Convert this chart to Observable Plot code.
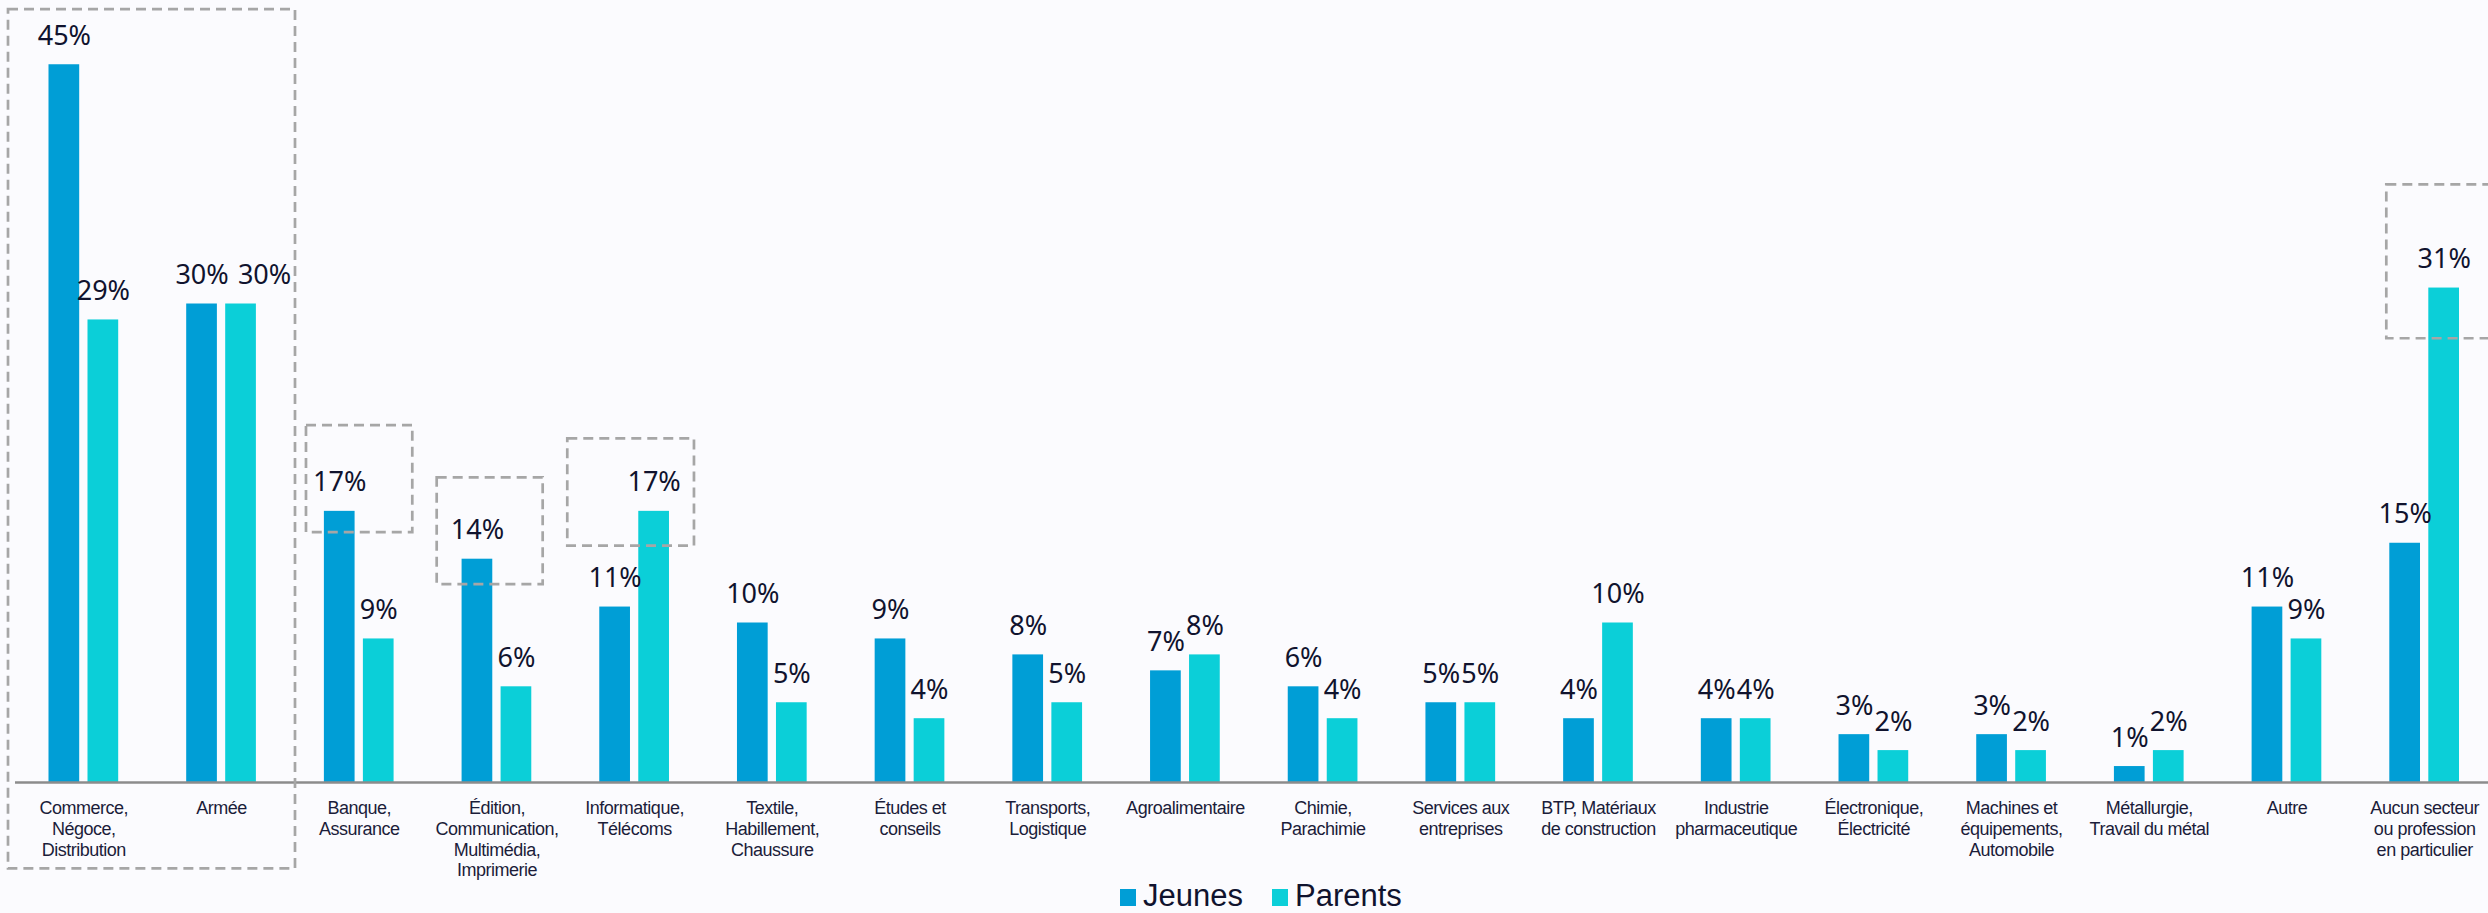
<!DOCTYPE html>
<html>
<head>
<meta charset="utf-8">
<script src="https://cdn.jsdelivr.net/npm/d3@7"></script>
<script src="https://cdn.jsdelivr.net/npm/@observablehq/plot@0.6"></script>
<style>
html, body { margin: 0; padding: 0; background: #fbfbfe; }
#chart svg { display: block; overflow: visible; }
#chart g[aria-label="x-axis tick label"] text { letter-spacing: -0.5px; }
#legend { display: flex; align-items: baseline; margin-left: 1120px; margin-top: 3px; height: 35px; line-height: 38px;
  font: 31px "Liberation Sans", Arial, sans-serif; color: #10132e; }
#legend .item { display: flex; align-items: baseline; margin-right: 29px; }
#legend .sw { display: inline-block; width: 16px; height: 17px; margin-right: 7px; }
</style>
</head>
<body>
<div id="chart"></div>
<div id="legend"></div>
<script>
// ---- data ----
const categories = [
  "Commerce, Négoce, Distribution", "Armée", "Banque, Assurance",
  "Édition, Communication, Multimédia, Imprimerie", "Informatique, Télécoms",
  "Textile, Habillement, Chaussure", "Études et conseils", "Transports, Logistique",
  "Agroalimentaire", "Chimie, Parachimie", "Services aux entreprises",
  "BTP, Matériaux de construction", "Industrie pharmaceutique", "Électronique, Électricité",
  "Machines et équipements, Automobile", "Métallurgie, Travail du métal", "Autre",
  "Aucun secteur ou profession en particulier"
];
const tickLabels = [
  "Commerce,\nNégoce,\nDistribution", "Armée", "Banque,\nAssurance",
  "Édition,\nCommunication,\nMultimédia,\nImprimerie", "Informatique,\nTélécoms",
  "Textile,\nHabillement,\nChaussure", "Études et\nconseils", "Transports,\nLogistique",
  "Agroalimentaire", "Chimie,\nParachimie", "Services aux\nentreprises",
  "BTP, Matériaux\nde construction", "Industrie\npharmaceutique", "Électronique,\nÉlectricité",
  "Machines et\néquipements,\nAutomobile", "Métallurgie,\nTravail du métal", "Autre",
  "Aucun secteur\nou profession\nen particulier"
];
const series = ["Jeunes", "Parents"];
const jeunes  = [45, 30, 17, 14, 11, 10, 9, 8, 7, 6, 5, 4, 4, 3, 3, 1, 11, 15];
const parents = [29, 30, 9, 6, 17, 5, 4, 5, 8, 4, 5, 10, 4, 2, 2, 2, 9, 31];

// highlighted (dashed) annotation boxes: category index span and value span
const boxCats   = [[0, 1], [2, 2], [3, 3], [4, 4], [17, 17]];
const boxRanges = [[-5.42, 48.46], [15.66, 22.38], [12.41, 19.10], [14.82, 21.55], [27.82, 37.47]];

// ---- build tables ----
const colors = ["#009ed6", "#0bcfd8"];
const labelOf = new Map(categories.map((c, i) => [c, tickLabels[i]]));
const table = [];
categories.forEach((c, i) => {
  table.push({cat: c, series: "Jeunes", value: jeunes[i]});
  table.push({cat: c, series: "Parents", value: parents[i]});
});
const J = table.filter(d => d.series === "Jeunes");
const P = table.filter(d => d.series === "Parents");
// the label of Parents for "Armée" is nudged right (as in the source) to avoid a collision
const nudged = new Set([categories[1]]);

const step = (2493 - 14.5) / categories.length;
const off = 19.5, barInset = (step - 30.7) / 2;

// box marks
const boxStyle = {fill: "none", stroke: "#a6a6a6", strokeWidth: 2.7, strokeDasharray: "10,6"};
const boxInsets = [[-6.5, -142.8], [16.1, 15.3], [9.1, 22.6], [2, 9], [31, -4]];
const boxMarks = boxCats.map((bc, k) => Plot.barY(
  [{cat: categories[bc[0]], y1: boxRanges[k][0], y2: boxRanges[k][1]}],
  {x: "cat", y1: "y1", y2: "y2", ...boxStyle, insetLeft: boxInsets[k][0], insetRight: boxInsets[k][1]}
));

const valueText = {fontFamily: "'Noto Sans', sans-serif", fontSize: 27, fill: "#10132e", lineAnchor: "bottom", dy: -20,
  text: d => d.value + "%"};

const chart = Plot.plot({
  width: 2488,
  height: 875,
  marginTop: 0,
  marginBottom: 93,
  marginLeft: 15,
  marginRight: 0,
  style: {background: "transparent", color: "#10132e"},
  x: {type: "band", domain: categories, range: [14.5, 2493], padding: 0, round: false, axis: null},
  y: {domain: [0, 782 / 15.95], axis: null},
  marks: [
    Plot.barY(J, {x: "cat", y: "value", fill: colors[0], dx: -off, insetLeft: barInset, insetRight: barInset}),
    Plot.barY(P, {x: "cat", y: "value", fill: colors[1], dx: off, insetLeft: barInset, insetRight: barInset}),
    Plot.text(J, {x: "cat", y: "value", dx: -off, ...valueText}),
    Plot.text(P.filter(d => !nudged.has(d.cat)), {x: "cat", y: "value", dx: off, ...valueText}),
    Plot.text(P.filter(d => nudged.has(d.cat)), {x: "cat", y: "value", ...valueText, dx: off + 23.5}),
    Plot.ruleY([0], {stroke: "#8c8c8c", strokeWidth: 2.5}),
    Plot.axisX({tickSize: 0, tickPadding: 17, tickFormat: d => labelOf.get(d), fontSize: 18, lineHeight: 1.15,
      label: null, fontFamily: "'Liberation Sans', Arial, sans-serif", fill: "#1b1d3a", stroke: null}),
    ...boxMarks
  ]
});
document.getElementById("chart").append(chart);

// legend
const legend = document.getElementById("legend");
series.forEach((s, i) => {
  const item = document.createElement("span");
  item.className = "item";
  const sw = document.createElement("span");
  sw.className = "sw";
  sw.style.background = colors[i];
  item.append(sw, document.createTextNode(s));
  legend.append(item);
});
</script>
</body>
</html>
